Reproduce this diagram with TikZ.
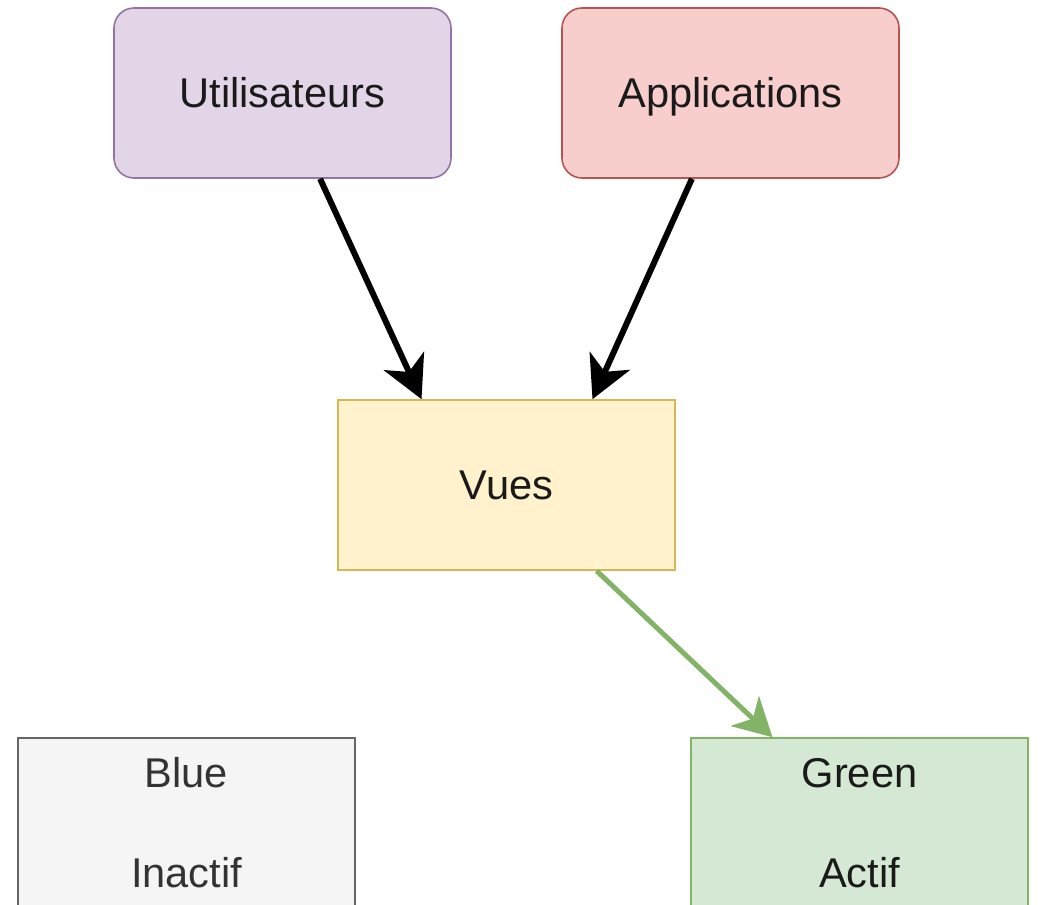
\documentclass[tikz,border=0pt]{standalone}
\usepackage{fontspec}
\setmainfont{Liberation Sans}
\usetikzlibrary{arrows.meta,calc}

\definecolor{purpleFill}{HTML}{E1D5E7}
\definecolor{purpleLine}{HTML}{9673A6}
\definecolor{redFill}{HTML}{F8CECC}
\definecolor{redLine}{HTML}{B85450}
\definecolor{yellowFill}{HTML}{FFF2CC}
\definecolor{yellowLine}{HTML}{D6B656}
\definecolor{grayFill}{HTML}{F5F5F5}
\definecolor{grayLine}{HTML}{666666}
\definecolor{greenFill}{HTML}{D5E8D4}
\definecolor{greenLine}{HTML}{82B366}
\definecolor{labelText}{HTML}{1A1A1A}
\definecolor{grayText}{HTML}{333333}

\tikzset{
  box/.style={draw, line width=1.6pt, minimum width=337pt, minimum height=170pt,
    inner sep=0pt, text=labelText, align=center,
    font=\fontsize{41.6}{100}\selectfont},
  % single-line labels are centred on their capital height
  oneline/.style={box, text height=29.8pt, text depth=0pt},
  roundbox/.style={oneline, rounded corners=20pt},
  flow/.style={line width=6pt, draw=black,
    -{Stealth[length=42pt, width=44pt, inset=12pt]}},
  greenflow/.style={line width=5pt, draw=greenLine,
    -{Stealth[length=38pt, width=41pt, inset=11pt, fill=greenLine]}}
}

\begin{document}
\begin{tikzpicture}[x=1pt, y=-1pt]
  \useasboundingbox (0,0) rectangle (1040,904);
  \clip (0,0) rectangle (1040,904);

  % source systems
  \node[roundbox, fill=purpleFill, draw=purpleLine] (users) at (282.5,93) {Utilisateurs};
  \node[roundbox, fill=redFill, draw=redLine] (apps) at (730.5,93) {Applications};

  % views layer
  \node[oneline, fill=yellowFill, draw=yellowLine] (views) at (506.5,485) {Vues};

  % deployment slots
  \node[box, fill=grayFill, draw=grayLine, text=grayText] (blue) at (186.5,823) {Blue\\Inactif};
  \node[box, fill=greenFill, draw=greenLine] (green) at (859.5,823) {Green\\Actif};

  % connectors
  \draw[flow] ($(users.south west)!0.611!(users.south east)$)
           -- ($(views.north west)!0.249!(views.north east)$);
  \draw[flow] ($(apps.south west)!0.386!(apps.south east)$)
           -- ($(views.north west)!0.754!(views.north east)$);
  \draw[greenflow] ($(views.south west)!0.766!(views.south east)$)
           -- ($(green.north west)!0.243!(green.north east)$);
\end{tikzpicture}
\end{document}
